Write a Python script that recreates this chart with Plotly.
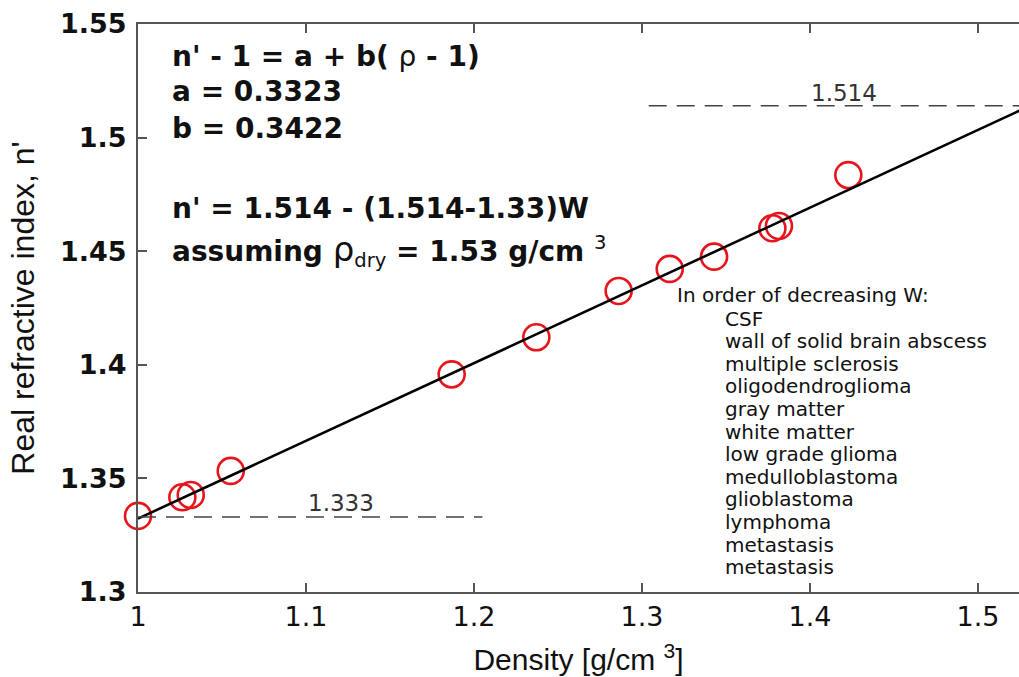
import plotly.graph_objects as go

# ---- data ----
tissues = ["CSF", "wall of solid brain abscess", "multiple sclerosis", "oligodendroglioma",
           "gray matter", "white matter", "low grade glioma", "medulloblastoma",
           "glioblastoma", "lymphoma", "metastasis", "metastasis"]
density = [1.000, 1.0264, 1.0314, 1.0552, 1.1867, 1.2371, 1.2861, 1.3165,
           1.3429, 1.3776, 1.3815, 1.4228]
refr_index = [1.3335, 1.3417, 1.3427, 1.3533, 1.3958, 1.4121, 1.4325, 1.4422,
              1.4476, 1.4601, 1.4611, 1.4835]

fit_a = 0.3323
fit_b = 0.3422
fit_x = [1.0, 1.56]
fit_y = [1 + fit_a + fit_b * (x - 1) for x in fit_x]

ref_low = 1.333
ref_low_x = [1.0, 1.205]
ref_high = 1.514
ref_high_x = [1.304, 1.60]

x_ticks = [1, 1.1, 1.2, 1.3, 1.4, 1.5]
x_ticktext = ["1", "1.1", "1.2", "1.3", "1.4", "1.5"]
y_ticks = [1.3, 1.35, 1.4, 1.45, 1.5, 1.55]
y_ticktext = ["1.3", "1.35", "1.4", "1.45", "1.5", "1.55"]

eq_lines = [
    "n' - 1 = a + b( <span style='font-weight:normal'>ρ</span> - 1)",
    "a = 0.3323",
    "b = 0.3422",
    "n' = 1.514 - (1.514-1.33)W",
    "assuming <span style='font-weight:normal;font-size:34px'>ρ</span>"
    "<sub><span style='font-weight:normal'>dry</span></sub> = 1.53 g/cm "
    "<sup><span style='font-weight:normal'>3</span></sup>",
]
eq_y = [1.5355, 1.5201, 1.5042, 1.4690, 1.4505]

list_title = "In order of decreasing W:"

# ---- figure ----
fig = go.Figure()

axis_grey = "#555555"

fig.add_trace(go.Scatter(
    x=density, y=refr_index, mode="markers", text=tissues,
    marker=dict(symbol="circle-open", size=26, color="#e8141c", line=dict(width=2.6)),
    cliponaxis=False, showlegend=False, hovertemplate="%{text}<br>%{x}, %{y}<extra></extra>"))

fig.add_trace(go.Scatter(
    x=fit_x, y=fit_y, mode="lines", line=dict(color="black", width=2.6),
    showlegend=False, hoverinfo="skip"))

fig.add_trace(go.Scatter(
    x=ref_low_x, y=[ref_low, ref_low], mode="lines",
    line=dict(color="#444444", width=1.6, dash="18px,10px"),
    showlegend=False, hoverinfo="skip"))
fig.add_trace(go.Scatter(
    x=ref_high_x, y=[ref_high, ref_high], mode="lines",
    line=dict(color="#444444", width=1.6, dash="18px,10px"),
    showlegend=False, hoverinfo="skip"))

annotations = []
for txt, yy in zip(eq_lines, eq_y):
    annotations.append(dict(
        x=1.019, y=yy, xref="x", yref="y", text=txt, showarrow=False,
        xanchor="left", yanchor="middle",
        font=dict(family="DejaVu Sans", size=28, color="#111111", weight="bold")))

annotations.append(dict(x=1.1208, y=ref_low + 0.006, xref="x", yref="y", text=f"{ref_low:.3f}",
                        showarrow=False, xanchor="center", yanchor="middle",
                        font=dict(family="DejaVu Sans", size=23, color="#333333")))
annotations.append(dict(x=1.4202, y=ref_high + 0.0055, xref="x", yref="y", text=f"{ref_high:.3f}",
                        showarrow=False, xanchor="center", yanchor="middle",
                        font=dict(family="DejaVu Sans", size=23, color="#333333")))

list_font = dict(family="DejaVu Sans", size=20, color="#111111")
annotations.append(dict(x=1.3202, y=1.3 + (592 - 295) / 2272, xref="x", yref="y", text=list_title,
                        showarrow=False, xanchor="left", yanchor="middle", font=list_font,
                        borderpad=0))
y0_px = 318.5
for i, name in enumerate(tissues):
    py = y0_px + i * 22.6
    yy = 1.3 + (592 - py) / 2272
    annotations.append(dict(x=1.3488, y=yy, xref="x", yref="y", text=name,
                            showarrow=False, xanchor="left", yanchor="middle", font=list_font,
                            borderpad=0))

fig.update_layout(
    width=1019, height=677,
    margin=dict(l=138, r=0, t=24, b=85),
    paper_bgcolor="white", plot_bgcolor="white",
    annotations=annotations,
    xaxis=dict(range=[1.0, 1.5244], tickvals=x_ticks, ticktext=x_ticktext,
               showline=True, linecolor=axis_grey, linewidth=2, mirror="ticks",
               ticks="inside", ticklen=9, tickwidth=1.5, tickcolor=axis_grey,
               showgrid=False, zeroline=False, ticklabelstandoff=0,
               tickfont=dict(family="DejaVu Sans", size=27, color="#111111"),
               title=dict(text="Density [g/cm <sup>3</sup>]", standoff=18,
                          font=dict(family="Liberation Sans", size=30, color="#111111"))),
    yaxis=dict(range=[1.3, 1.55], tickvals=y_ticks, ticktext=y_ticktext,
               showline=True, linecolor=axis_grey, linewidth=2, mirror=False,
               ticks="inside", ticklen=9, tickwidth=1.5, tickcolor=axis_grey,
               showgrid=False, zeroline=False, ticklabelstandoff=4,
               tickfont=dict(family="DejaVu Sans", size=27, color="#111111", weight="bold"),
               title=dict(text="Real refractive index, n'", standoff=16,
                          font=dict(family="Liberation Sans", size=32, color="#111111"))),
)

fig.write_html("out.html")
